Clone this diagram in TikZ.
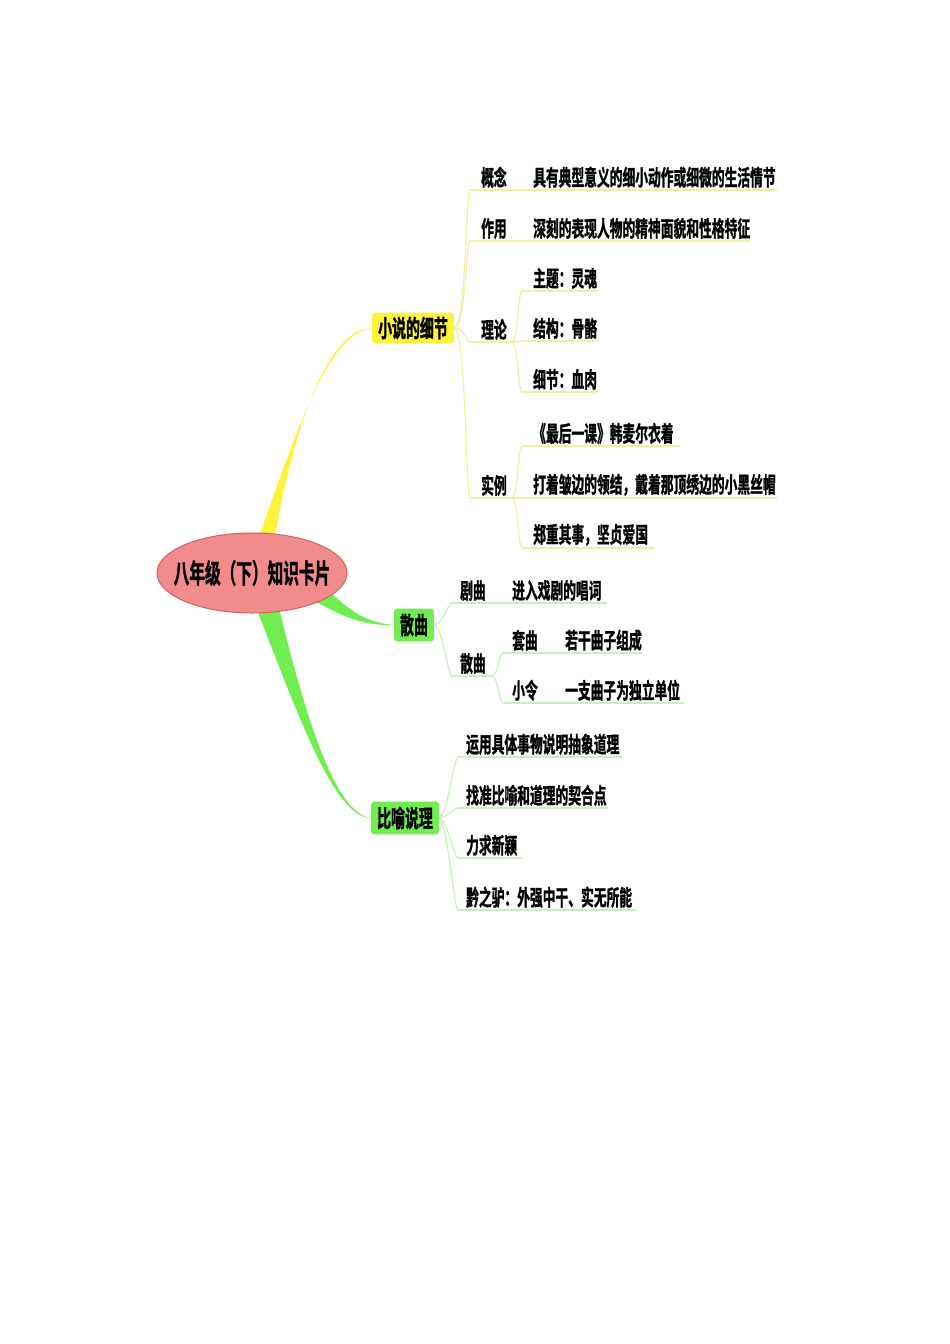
\documentclass[tikz,border=0pt]{standalone}
\usepackage{fontspec}
\newfontfamily\cjk[FakeStretch=0.58,FakeBold=1.2]{Noto Sans CJK SC Bold}
\usetikzlibrary{backgrounds,shapes.geometric}
\definecolor{yb}{HTML}{FFF23A}
\definecolor{yl}{HTML}{F3EFA0}
\definecolor{gb}{HTML}{70EE50}
\definecolor{gl}{HTML}{C8EFC0}
\definecolor{rootf}{HTML}{F28C8C}
\definecolor{rootd}{HTML}{D06060}
\tikzset{
  txt/.style={anchor=south west,inner sep=0pt,font=\cjk\fontsize{22}{22}\selectfont},
  ycon/.style={draw=yl,line width=1.2pt},
  gcon/.style={draw=gl,line width=1.2pt},
  ybox/.style={fill=yb,rounded corners=3pt,inner xsep=6pt,inner ysep=4pt,font=\cjk\fontsize{24}{24}\selectfont},
  gbox/.style={fill=gb,rounded corners=3pt,inner xsep=6pt,inner ysep=5pt,font=\cjk\fontsize{24}{24}\selectfont}
}
\begin{document}
\begin{tikzpicture}[x=1pt,y=-1pt]
\useasboundingbox (0,0) rectangle (950,1344);
\begin{pgfonlayer}{background}
\fill[white] (0,0) rectangle (950,1344);
\end{pgfonlayer}
% root
\node[inner sep=0pt,minimum width=190pt,minimum height=80pt] (root) at (252,573) {};
\node[inner sep=0pt,font=\cjk\fontsize{27}{27}\selectfont] (roottxt) at (root.center) {\phantom{八}};
\node[xs/.style={},ybox] (xs) at (413,328) {小说的细节};
\node[gbox] (sq) at (414,625) {散曲};
\node[gbox] (by) at (405,818) {比喻说理};
\fill[yb] (259,537) .. controls (300,420) and (330,333) .. (xs.west) .. controls (330,328) and (295,420) .. (275,537) -- cycle;
\fill[gb] (305,596) .. controls (340,615) and (360,626) .. (sq.west) .. controls (360,622) and (345,605) .. (330,592) -- cycle;
\fill[gb] (257,610) .. controls (300,720) and (335,818) .. (by.west) .. controls (335,814) and (305,715) .. (279,608) -- cycle;
\draw[fill=rootf,draw=rootd,line width=1pt] (root.center) ellipse [x radius=95pt,y radius=40pt];
\node[inner sep=0pt,font=\cjk\fontsize{27}{27}\selectfont] at (root.center) {八年级（下）知识卡片};
% ---- xs children
\foreach \n/\y/\xe in {gn/190/777,zy/241/750,ll/342/512,sl/498/512}
  {\coordinate (\n s) at (470,\y); \coordinate (\n e) at (\xe,\y);}
\node[txt] at (481,188) {概念};
\node[txt] at (533,188) {具有典型意义的细小动作或细微的生活情节};
\node[txt] at (481,239) {作用};
\node[txt] at (533,239) {深刻的表现人物的精神面貌和性格特征};
\node[txt] at (481,340) {理论};
\node[txt] at (481,496) {实例};
\foreach \n in {gn,zy,ll,sl}{
  \draw[ycon] (\n s) -- (\n e);
  \draw[ycon] (xs.east) .. controls +(12,0) and +(-4,0) .. (\n s);}
\foreach \n/\y/\xe/\t in {zt/291/598/主题：灵魂,jg/341/598/结构：骨骼,xj/392/598/细节：血肉}{
  \coordinate (\n s) at (522,\y); \coordinate (\n e) at (\xe,\y);
  \node[txt] at (533,\y-2) {\t};
  \draw[ycon] (\n s) -- (\n e);
  \draw[ycon] (lle) .. controls +(6,0) and +(-4,0) .. (\n s);}
\foreach \n/\y/\xe/\t in {ka/446/680/《最后一课》韩麦尔衣着,kb/498/777/打着皱边的领结，戴着那顶绣边的小黑丝帽,kc/548/655/郑重其事，坚贞爱国}{
  \coordinate (\n s) at (522,\y); \coordinate (\n e) at (\xe,\y);
  \node[txt] at (533,\y-2) {\t};
  \draw[ycon] (\n s) -- (\n e);
  \draw[ycon] (sle) .. controls +(6,0) and +(-4,0) .. (\n s);}
% ---- sq children
\coordinate (jqs) at (452,603); \coordinate (jqe) at (607,603);
\coordinate (sqs) at (452,676); \coordinate (sqe) at (492,676);
\node[txt] at (460,601) {剧曲};
\node[txt] at (512,601) {进入戏剧的唱词};
\node[txt] at (460,674) {散曲};
\foreach \n in {jq,sq}{
  \draw[gcon] (\n s) -- (\n e);
  \draw[gcon] (sq.east) .. controls +(8,0) and +(-4,0) .. (\n s);}
\foreach \n/\y/\xe/\a/\b in {tq/653/642/套曲/若干曲子组成,xl/703/684/小令/一支曲子为独立单位}{
  \coordinate (\n s) at (503,\y); \coordinate (\n e) at (\xe,\y);
  \node[txt] at (512,\y-2) {\a};
  \node[txt] at (565,\y-2) {\b};
  \draw[gcon] (\n s) -- (\n e);
  \draw[gcon] (sqe) .. controls +(6,0) and +(-4,0) .. (\n s);}
% ---- by children
\foreach \n/\y/\xe/\t in {ba/757/622/运用具体事物说明抽象道理,bb/808/608/找准比喻和道理的契合点,bc/858/522/力求新颖,bd/910/636/黔之驴：外强中干、实无所能}{
  \coordinate (\n s) at (458,\y); \coordinate (\n e) at (\xe,\y);
  \node[txt] at (466,\y-2) {\t};
  \draw[gcon] (\n s) -- (\n e);
  \draw[gcon] (by.east) .. controls +(8,0) and +(-4,0) .. (\n s);}
\end{tikzpicture}
\end{document}
